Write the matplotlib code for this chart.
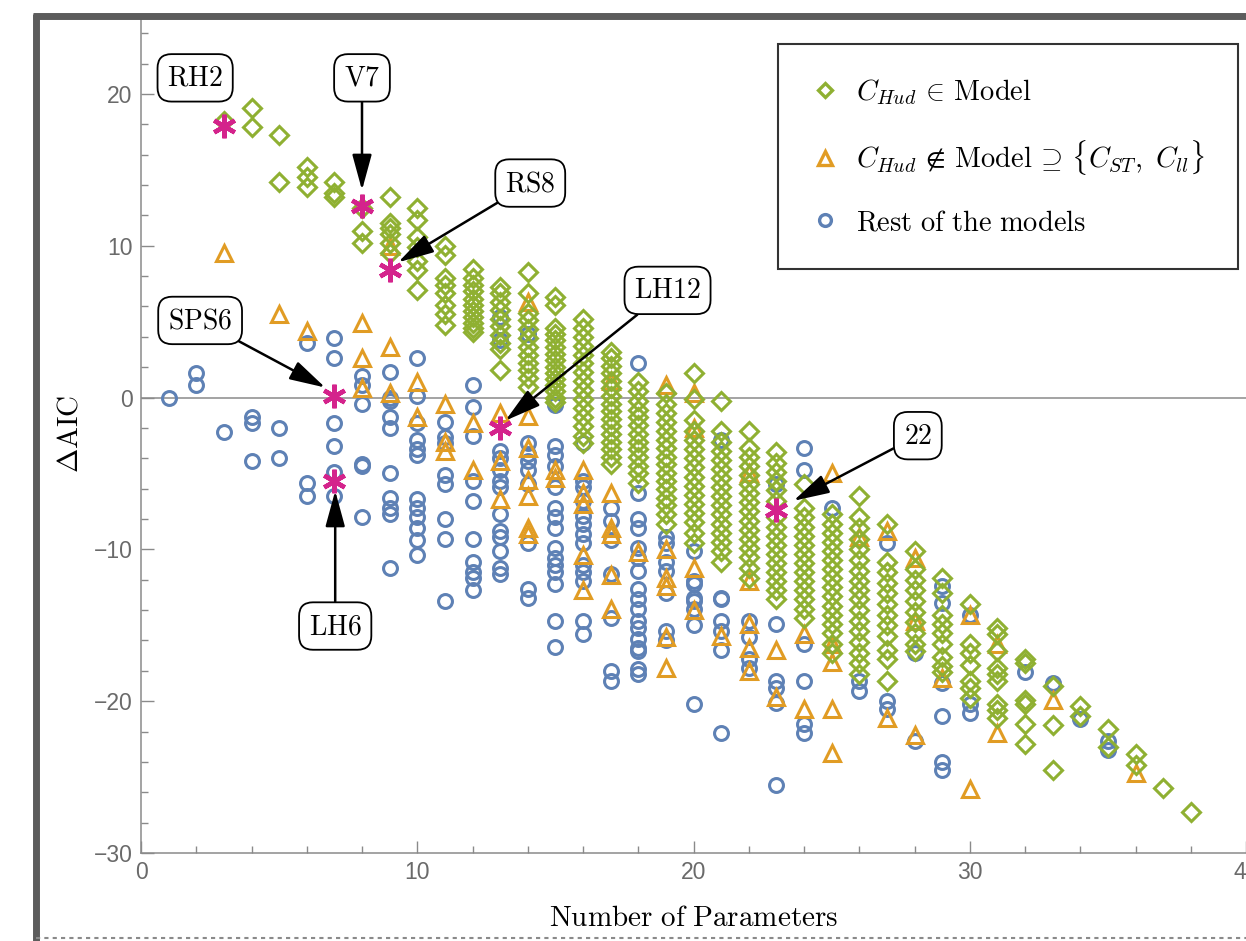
import matplotlib
matplotlib.use("Agg")
import matplotlib.pyplot as plt
from matplotlib.lines import Line2D

plt.rcParams['mathtext.fontset'] = 'cm'

# models with C_Hud (green diamonds), keyed by number of parameters
hud_in = {
    3: [18.2], 4: [19.1, 17.8], 5: [17.3, 14.2], 6: [15.2, 14.5, 13.9],
    7: [14.2, 13.5, 13.2], 8: [12.5, 11.0, 10.2],
    9: [13.2, 11.5, 11.2, 10.8, 10.2, 9.5],
    10: [12.5, 11.7, 10.6, 9.9, 9.0, 8.4, 7.1],
    11: [10.0, 9.4, 7.9, 7.4, 6.9, 6.1, 5.5, 4.8],
    12: [8.5, 7.9, 7.4, 7.0, 6.5, 6.1, 5.7, 5.3, 4.9, 4.6, 4.3],
    13: [7.3, 6.9, 6.3, 5.8, 5.2, 4.7, 4.1, 3.6, 3.2, 1.8],
    14: [8.3, 6.9, 5.6, 5.1, 4.5, 3.9, 3.3, 2.8, 2.3, 1.8, 1.3, 0.7],
    15: [6.6, 6.1, 4.6, 4.2, 3.8, 3.3, 2.9, 2.5, 2.0, 1.6, 1.2, 0.8, 0.4, 0.0, -0.3],
    16: [5.2, 4.6, 4.0, 3.4, 2.8, 2.3, 1.7, 1.1, 0.5, -0.1, -0.7, -1.3, -1.9, -2.5, -3.0],
    17: [3.0, 2.6, 2.1, 1.6, 1.1, 0.6, 0.1, -0.4, -0.9, -1.4, -1.9, -2.4, -2.9, -3.4, -3.9, -4.4],
    18: [1.0, 0.4, -0.2, -0.8, -1.3, -1.8, -2.4, -2.9, -3.4, -3.9, -4.5, -5.0, -5.6],
    19: [0.3, -0.4, -1.0, -1.6, -2.2, -2.8, -3.3, -3.9, -4.4, -5.0, -5.5, -6.0, -6.6, -7.1, -7.7, -8.3],
    20: [1.6, -0.1, -1.5, -2.2, -2.8, -3.4, -4.0, -4.6, -5.2, -5.8, -6.4, -7.0, -7.6, -8.2, -8.9, -9.6],
    21: [-0.2, -2.2, -2.9, -3.5, -4.1, -4.7, -5.3, -5.9, -6.5, -7.1, -7.7, -8.3, -8.9, -9.5, -10.1, -10.8],
    22: [-2.2, -3.3, -3.9, -4.5, -5.1, -5.7, -6.3, -6.9, -7.5, -8.1, -8.7, -9.3, -9.9, -10.5, -11.2, -11.9],
    23: [-3.6, -4.3, -4.9, -5.5, -6.1, -6.8, -7.9, -8.5, -9.1, -9.7, -10.3, -10.9, -11.5, -12.1, -12.7, -13.3],
    24: [-5.7, -7.3, -7.9, -8.5, -9.1, -9.7, -10.3, -10.9, -11.5, -12.1, -12.7, -13.3, -13.9, -14.5],
    25: [-7.7, -8.3, -8.9, -9.5, -10.1, -10.7, -11.3, -11.9, -12.5, -13.1, -13.7, -14.3, -14.9, -15.5, -16.2, -16.8],
    26: [-6.5, -7.9, -8.6, -9.3, -10.0, -10.7, -11.4, -12.1, -12.7, -13.3, -14.0, -14.7, -15.4, -16.1, -16.8, -17.5, -18.2],
    27: [-8.3, -10.8, -11.5, -12.2, -12.9, -13.6, -14.3, -15.0, -15.7, -16.6, -17.2, -18.7],
    28: [-10.1, -11.3, -12.0, -12.7, -13.4, -14.1, -14.8, -15.5, -16.2, -16.7],
    29: [-11.9, -12.9, -14.3, -14.9, -15.5, -16.2, -17.1, -17.7, -18.1],
    30: [-13.6, -16.2, -16.8, -17.6, -18.7, -19.1, -19.8],
    31: [-15.2, -15.6, -16.7, -17.8, -18.2, -18.7, -20.2, -20.6, -21.1],
    32: [-17.2, -17.5, -19.9, -20.2, -21.5, -22.8],
    33: [-19.0, -21.6, -24.5], 34: [-20.3, -21.0], 35: [-21.8, -23.0],
    36: [-23.5, -24.2], 37: [-25.7], 38: [-27.3],
}

# C_Hud not in model, but C_ST and C_ll are (orange triangles)
hud_out = {
    3: [9.5], 5: [5.5], 6: [4.4], 8: [4.9, 2.6, 0.6], 9: [10.0, 3.3, 0.3],
    10: [1.0, -1.3], 11: [-0.4, -2.9, -3.5], 12: [-1.7, -4.8],
    13: [-1.0, -4.2, -6.7], 14: [6.3, -1.2, -3.3, -5.4, -6.5, -8.6, -9.0],
    15: [-4.8, -5.3], 16: [-4.8, -6.3, -7.0, -10.4, -12.7],
    17: [1.1, -6.3, -8.6, -9.0, -11.7, -13.9], 18: [-10.2],
    19: [0.8, -10.0, -11.9, -12.4, -15.8, -17.8], 20: [0.3, -2.0, -11.2, -14.0],
    21: [-15.7], 22: [-5.0, -12.1, -14.9, -16.5, -18.0], 23: [-16.6, -19.7],
    24: [-15.6, -20.5], 25: [-5.0, -16.2, -17.4, -20.5, -23.4], 26: [-9.2],
    27: [-8.8, -21.1], 28: [-10.6, -14.7, -22.2], 29: [-18.5],
    30: [-14.3, -25.8], 31: [-16.2, -22.1], 33: [-19.9], 36: [-24.7],
}

# rest of the models (blue circles)
rest = {
    1: [0.0], 2: [1.6, 0.8], 3: [-2.3], 4: [-1.3, -1.7, -4.2], 5: [-2.0, -4.0],
    6: [3.6, -5.6, -6.5], 7: [3.9, 2.6, -1.7, -3.2, -4.9, -6.5],
    8: [1.4, 0.8, -0.4, -4.4, -4.5, -7.9],
    9: [1.7, 0.0, -0.2, -1.3, -2.0, -5.0, -6.6, -7.3, -7.7, -11.2],
    10: [2.6, 0.1, -1.7, -2.8, -3.4, -3.8, -6.7, -7.3, -7.9, -8.6, -9.4, -10.4],
    11: [-1.6, -2.6, -3.0, -5.1, -5.7, -8.0, -9.3, -13.4],
    12: [0.8, -0.6, -2.5, -5.5, -6.8, -9.3, -10.8, -11.5, -11.9, -12.7],
    13: [5.3, 3.8, -3.5, -4.0, -4.8, -5.5, -5.9, -7.7, -8.8, -9.2, -10.1, -11.2, -11.6],
    14: [4.2, -3.0, -3.7, -4.2, -4.8, -5.7, -9.6, -12.6, -13.2],
    15: [-0.5, -3.2, -3.8, -4.5, -5.9, -7.3, -7.9, -8.6, -9.9, -10.6, -11.0, -11.5, -12.3, -14.7, -16.4],
    16: [-3.0, -5.5, -5.9, -6.8, -7.8, -8.3, -9.0, -9.6, -11.0, -11.5, -12.1, -14.7, -15.6],
    17: [-7.3, -8.1, -9.4, -11.6, -14.5, -18.0, -18.7],
    18: [2.3, -6.3, -8.0, -8.6, -9.9, -10.6, -11.4, -12.6, -13.3, -13.9, -14.7, -15.2,
         -15.9, -16.5, -16.7, -17.9, -18.2],
    19: [-9.2, -9.6, -10.8, -11.4, -12.9, -15.4, -16.0],
    20: [-10.1, -12.1, -12.3, -13.2, -13.4, -13.9, -15.0, -20.2],
    21: [-2.8, -13.2, -13.3, -14.7, -15.4, -16.6, -22.1],
    22: [-14.7, -15.8, -17.2, -17.8], 23: [-5.7, -14.9, -18.7, -19.1, -20.1, -25.5],
    24: [-3.3, -4.8, -16.2, -18.7, -21.5, -22.1], 25: [-7.3], 26: [-18.7, -19.3],
    27: [-9.6, -20.0, -20.5], 28: [-16.8, -22.6],
    29: [-12.4, -13.5, -18.8, -21.0, -24.0, -24.5], 30: [-14.3, -20.2, -20.8],
    32: [-18.1], 33: [-18.8], 34: [-21.2], 35: [-22.6, -23.2],
}

# highlighted models
star_names = ['RH2', 'V7', 'RS8', 'SPS6', 'LH6', 'LH12', '22']
star_x = [3, 8, 9, 7, 7, 13, 23]
star_y = [17.9, 12.6, 8.4, 0.1, -5.5, -2.0, -7.4]

GREEN = '#8FB032'
ORANGE = '#E19C24'
BLUE = '#5E81B5'
MAGENTA = '#D4238C'


def flatten(d):
    xs, ys = [], []
    for k, vals in d.items():
        for v in vals:
            xs.append(k)
            ys.append(v)
    return xs, ys


fig = plt.figure(figsize=(12.46, 9.41), dpi=100)
ax = fig.add_axes([141 / 1246, 1 - 853 / 941, 1105 / 1246, 838 / 941])

bx, by = flatten(rest)
ox, oy = flatten(hud_out)
gx, gy = flatten(hud_in)
ax.plot(bx, by, 'o', ms=10, mfc='none', mec=BLUE, mew=2.2, zorder=3)
ax.plot(ox, oy, '^', ms=11.5, mfc='none', mec=ORANGE, mew=2.2, zorder=4)
ax.plot(gx, gy, 'D', ms=9, mfc='none', mec=GREEN, mew=2.2, zorder=5)
ax.plot(star_x, star_y, ls='none', marker=(6, 2, 0), ms=17, mec=MAGENTA, mew=3.2, zorder=6)

ax.axhline(0, color='#8a8a8a', lw=1.1, zorder=1)

ax.set_xlim(0, 40)
ax.set_ylim(-30, 25.2)
ax.set_xticks([0, 10, 20, 30, 40])
ax.set_yticks([-30, -20, -10, 0, 10, 20])
ax.set_xticks(range(0, 41, 2), minor=True)
ax.set_yticks(range(-30, 26, 2), minor=True)
ax.set_yticklabels(['\u221230', '\u221220', '\u221210', '0', '10', '20'])
for s in ['top', 'right']:
    ax.spines[s].set_visible(False)
for s in ['left', 'bottom']:
    ax.spines[s].set_color('#8a8a8a')
    ax.spines[s].set_linewidth(1.1)
ax.tick_params(which='both', direction='in', color='#8a8a8a', width=1.0,
               labelcolor='#6a6a6a', labelsize=16.5, pad=6)
ax.tick_params(which='major', length=9)
ax.tick_params(which='minor', length=5)
for lab in ax.get_xticklabels() + ax.get_yticklabels():
    lab.set_family('Liberation Sans')

ax.set_xlabel(r'$\mathrm{Number\ of\ Parameters}$', fontsize=21)
ax.set_ylabel(r'$\Delta\mathrm{AIC}$', fontsize=21)
ax.xaxis.set_label_coords(0.5, (853 - 918) / 838)
ax.yaxis.set_label_coords((70 - 141) / 1105, 0.5)
ax.xaxis.label.set_va('center')
ax.yaxis.label.set_va('center')

# annotations
box = dict(boxstyle='round,pad=0.35,rounding_size=0.5', fc='white', ec='black', lw=1.3)
arrow = dict(arrowstyle='-|>,head_length=1.1,head_width=0.3', color='black', lw=1.8,
             mutation_scale=20, shrinkA=0, shrinkB=0)
ann_text = [(1.96, 21.06), (8.0, 21.06), (14.09, 14.13), (2.14, 5.08),
            (7.03, -15.05), (19.06, 7.06), (28.12, -2.51)]
ann_tip = [None, (8.0, 13.66), (9.31, 8.91), (6.67, 0.66),
           (7.03, -6.14), (13.19, -1.52), (23.62, -6.80)]
for name, t, tip in zip(star_names, ann_text, ann_tip):
    label = r'$\mathrm{' + name + '}$'
    if tip is None:
        ax.text(t[0], t[1], label, fontsize=20, ha='center', va='center', bbox=box, zorder=8)
    else:
        ax.annotate(label, xy=tip, xytext=t, fontsize=20, ha='center', va='center',
                    bbox=box, arrowprops=arrow, zorder=8)

handles = [
    Line2D([], [], ls='none', marker='D', ms=7.5, mfc='none', mec=GREEN, mew=2.4),
    Line2D([], [], ls='none', marker='^', ms=9.5, mfc='none', mec=ORANGE, mew=2.4),
    Line2D([], [], ls='none', marker='o', ms=8.5, mfc='none', mec=BLUE, mew=2.4),
]
labels = [r'$C_{Hud}\,\in\,\mathrm{Model}$',
          r'$C_{Hud}\,\notin\,\mathrm{Model}\,\supseteq\,\{C_{ST},\ C_{ll}\}$',
          r'$\mathrm{Rest\ of\ the\ models}$']
leg = ax.legend(handles, labels, loc='upper left', bbox_to_anchor=(778 / 1246, 1 - 44 / 941),
                bbox_transform=fig.transFigure, fontsize=20.5, frameon=True, fancybox=False,
                edgecolor='black', labelspacing=1.1, borderpad=1.15, handletextpad=0.6,
                handlelength=1.0, borderaxespad=0)
leg.get_frame().set_linewidth(1.5)
leg.set_zorder(10)

# rough grey frame around the whole picture
fig.add_artist(Line2D([36 / 1246, 36 / 1246], [0, 1 - 14 / 941], transform=fig.transFigure,
                      color='#5c5c5c', lw=5, solid_capstyle='butt'))
fig.add_artist(Line2D([33 / 1246, 1], [1 - 16 / 941, 1 - 16 / 941], transform=fig.transFigure,
                      color='#5c5c5c', lw=5, solid_capstyle='butt'))
fig.add_artist(Line2D([36 / 1246, 1], [3 / 941, 3 / 941], transform=fig.transFigure,
                      color='#8a8a8a', lw=1.5, ls=(0, (2, 2))))

fig.savefig('out.png', dpi=100)
